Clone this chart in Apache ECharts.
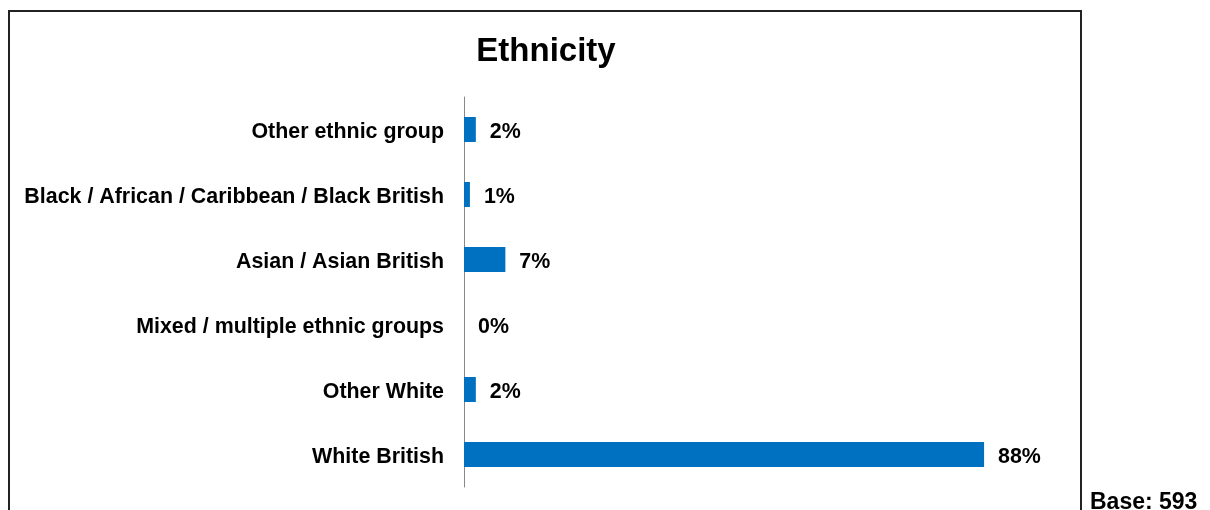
<!DOCTYPE html>
<html>
<head>
<meta charset="utf-8">
<script src="https://cdn.jsdelivr.net/npm/echarts@6/dist/echarts.min.js"></script>
<style>
  html, body { margin: 0; padding: 0; background: #fff; }
  #chart { width: 1210px; height: 510px; }
</style>
</head>
<body>
<div id="chart"></div>
<script>
// Ethnicity breakdown of respondents (percent)
const categories = [
  'White British',
  'Other White',
  'Mixed / multiple ethnic groups',
  'Asian / Asian British',
  'Black / African / Caribbean / Black British',
  'Other ethnic group'
];
const values = [88, 2, 0, 7, 1, 2];
const titleText = 'Ethnicity';
const baseText = 'Base: 593';

const chart = echarts.init(document.getElementById('chart'), null, { renderer: 'canvas' });
const font = 'Liberation Sans, Arial, sans-serif';

chart.setOption({
  animation: false,
  backgroundColor: '#fff',
  title: {
    text: titleText,
    left: 541,
    textAlign: 'center',
    top: 30,
    textStyle: { fontFamily: font, fontSize: 33, fontWeight: 'bold', color: '#000' }
  },
  graphic: [
    {
      type: 'rect',
      shape: { x: 9, y: 11, width: 1072, height: 520 },
      style: { fill: null, stroke: '#222', lineWidth: 2 },
      silent: true
    },
    {
      type: 'text',
      left: 1090,
      top: 491,
      style: { text: baseText, fontFamily: font, fontSize: 23, fontWeight: 'bold', fill: '#000' }
    }
  ],
  grid: { left: 464, top: 97, width: 591, height: 390, containLabel: false },
  xAxis: {
    type: 'value',
    min: 0,
    max: 100,
    show: false
  },
  yAxis: {
    type: 'category',
    data: categories,
    axisLine: { show: true, lineStyle: { color: '#888', width: 1 } },
    axisTick: { show: false },
    axisLabel: {
      margin: 20,
      verticalAlign: 'top',
      lineHeight: 5,
      fontFamily: font,
      fontSize: 21.4,
      fontWeight: 'bold',
      color: '#000'
    }
  },
  series: [{
    type: 'bar',
    data: values,
    barWidth: 25,
    itemStyle: { color: '#0070C0' },
    label: {
      show: true,
      position: 'right',
      distance: 14,
      verticalAlign: 'top',
      lineHeight: 5,
      formatter: '{c}%',
      fontFamily: font,
      fontSize: 21.4,
      fontWeight: 'bold',
      color: '#000'
    }
  }]
});
</script>
</body>
</html>
